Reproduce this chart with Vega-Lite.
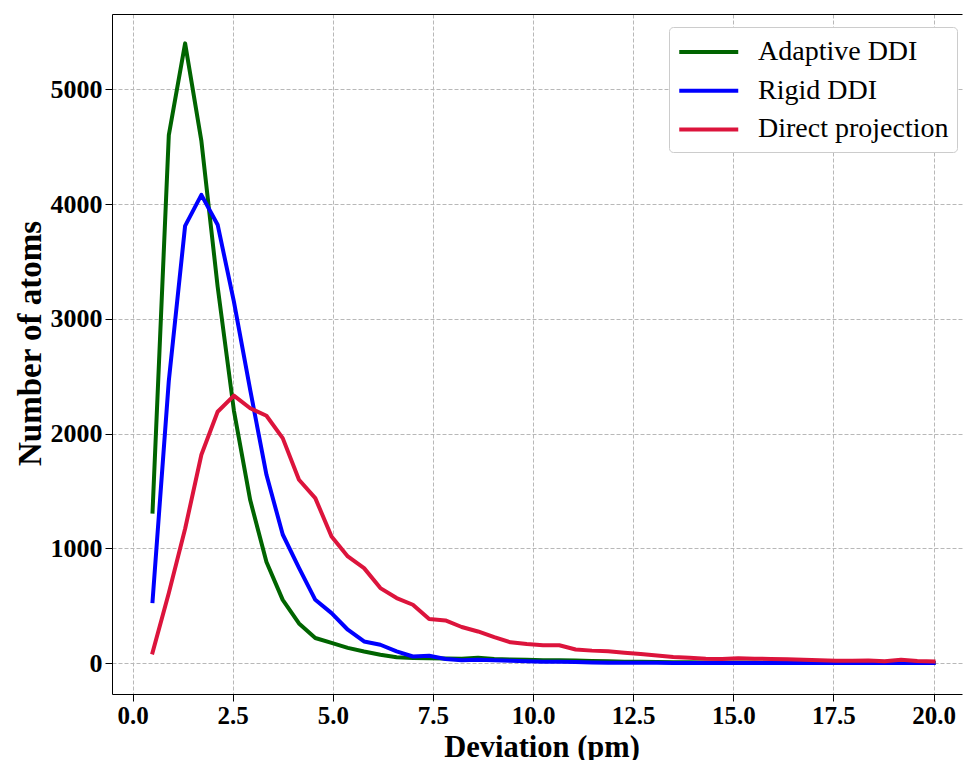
{
  "$schema": "https://vega.github.io/schema/vega-lite/v6.json",
  "width": 850,
  "height": 680,
  "autosize": {"type": "none"},
  "padding": {"left": 112, "top": 14, "right": 1, "bottom": 66},
  "background": "white",
  "config": {"view": {"stroke": null}, "font": "Liberation Serif"},
  "data": {"values": [
    {"x":0.5,"Adaptive DDI":1320,"Rigid DDI":540,"Direct projection":92},
    {"x":0.906,"Adaptive DDI":4600,"Rigid DDI":2460,"Direct projection":610},
    {"x":1.313,"Adaptive DDI":5400,"Rigid DDI":3810,"Direct projection":1170},
    {"x":1.719,"Adaptive DDI":4550,"Rigid DDI":4080,"Direct projection":1815},
    {"x":2.125,"Adaptive DDI":3280,"Rigid DDI":3820,"Direct projection":2190},
    {"x":2.531,"Adaptive DDI":2200,"Rigid DDI":3150,"Direct projection":2330},
    {"x":2.938,"Adaptive DDI":1420,"Rigid DDI":2380,"Direct projection":2220},
    {"x":3.344,"Adaptive DDI":880,"Rigid DDI":1640,"Direct projection":2155},
    {"x":3.75,"Adaptive DDI":550,"Rigid DDI":1120,"Direct projection":1960},
    {"x":4.156,"Adaptive DDI":345,"Rigid DDI":830,"Direct projection":1597},
    {"x":4.563,"Adaptive DDI":218,"Rigid DDI":551,"Direct projection":1437},
    {"x":4.969,"Adaptive DDI":175,"Rigid DDI":435,"Direct projection":1103},
    {"x":5.375,"Adaptive DDI":132,"Rigid DDI":290,"Direct projection":929},
    {"x":5.781,"Adaptive DDI":100,"Rigid DDI":188,"Direct projection":827},
    {"x":6.188,"Adaptive DDI":72,"Rigid DDI":159,"Direct projection":653},
    {"x":6.594,"Adaptive DDI":50,"Rigid DDI":101,"Direct projection":566},
    {"x":7.0,"Adaptive DDI":43,"Rigid DDI":57,"Direct projection":508},
    {"x":7.406,"Adaptive DDI":42,"Rigid DDI":64,"Direct projection":383},
    {"x":7.813,"Adaptive DDI":40,"Rigid DDI":35,"Direct projection":371},
    {"x":8.219,"Adaptive DDI":38,"Rigid DDI":25,"Direct projection":314},
    {"x":8.625,"Adaptive DDI":45,"Rigid DDI":28,"Direct projection":275},
    {"x":9.031,"Adaptive DDI":35,"Rigid DDI":24,"Direct projection":225},
    {"x":9.438,"Adaptive DDI":30,"Rigid DDI":20,"Direct projection":180},
    {"x":9.844,"Adaptive DDI":28,"Rigid DDI":15,"Direct projection":165},
    {"x":10.25,"Adaptive DDI":25,"Rigid DDI":12,"Direct projection":155},
    {"x":10.656,"Adaptive DDI":24,"Rigid DDI":10,"Direct projection":155},
    {"x":11.063,"Adaptive DDI":22,"Rigid DDI":8,"Direct projection":118},
    {"x":11.469,"Adaptive DDI":18,"Rigid DDI":5,"Direct projection":108},
    {"x":11.875,"Adaptive DDI":15,"Rigid DDI":3,"Direct projection":102},
    {"x":12.281,"Adaptive DDI":12,"Rigid DDI":2,"Direct projection":90},
    {"x":12.688,"Adaptive DDI":10,"Rigid DDI":2,"Direct projection":78},
    {"x":13.094,"Adaptive DDI":8,"Rigid DDI":2,"Direct projection":65},
    {"x":13.5,"Adaptive DDI":7,"Rigid DDI":1,"Direct projection":52},
    {"x":13.906,"Adaptive DDI":6,"Rigid DDI":1,"Direct projection":45},
    {"x":14.313,"Adaptive DDI":5,"Rigid DDI":1,"Direct projection":38},
    {"x":14.719,"Adaptive DDI":5,"Rigid DDI":1,"Direct projection":35},
    {"x":15.125,"Adaptive DDI":4,"Rigid DDI":1,"Direct projection":42},
    {"x":15.531,"Adaptive DDI":4,"Rigid DDI":1,"Direct projection":38},
    {"x":15.938,"Adaptive DDI":3,"Rigid DDI":1,"Direct projection":35},
    {"x":16.344,"Adaptive DDI":3,"Rigid DDI":1,"Direct projection":32},
    {"x":16.75,"Adaptive DDI":3,"Rigid DDI":1,"Direct projection":28},
    {"x":17.156,"Adaptive DDI":2,"Rigid DDI":0,"Direct projection":25},
    {"x":17.563,"Adaptive DDI":2,"Rigid DDI":0,"Direct projection":20},
    {"x":17.969,"Adaptive DDI":2,"Rigid DDI":0,"Direct projection":20},
    {"x":18.375,"Adaptive DDI":2,"Rigid DDI":0,"Direct projection":23},
    {"x":18.781,"Adaptive DDI":1,"Rigid DDI":0,"Direct projection":16},
    {"x":19.188,"Adaptive DDI":1,"Rigid DDI":0,"Direct projection":28},
    {"x":19.594,"Adaptive DDI":1,"Rigid DDI":0,"Direct projection":17},
    {"x":20.0,"Adaptive DDI":1,"Rigid DDI":0,"Direct projection":14}
  ]},
  "transform": [
    {"fold": ["Adaptive DDI", "Rigid DDI", "Direct projection"], "as": ["method", "count"]}
  ],
  "layer": [
    {
      "mark": {"type": "line", "strokeWidth": 4, "strokeCap": "square", "strokeJoin": "round", "clip": true},
      "encoding": {
        "x": {
          "field": "x", "type": "quantitative",
          "scale": {"domain": [-0.5125, 20.71], "nice": false, "zero": false},
          "axis": {
            "orient": "bottom",
            "values": [0, 2.5, 5, 7.5, 10, 12.5, 15, 17.5, 20],
            "format": ".1f",
            "grid": true, "gridColor": "#b8b8b8", "gridDash": [4, 2], "gridWidth": 1,
            "domainColor": "#000000", "domainWidth": 1,
            "tickColor": "#000000", "tickSize": 7, "tickWidth": 1,
            "labelFont": "Liberation Serif", "labelFontWeight": "bold", "labelFontSize": 25, "labelColor": "#000000",
            "labelBaseline": "alphabetic", "labelPadding": 22, "labelFlush": false, "labelOverlap": false,
            "title": "Deviation (pm)",
            "titleFont": "Liberation Serif", "titleFontWeight": "bold", "titleFontSize": 30.5, "titleColor": "#000000",
            "titleX": 429.5, "titleY": 62, "titleAlign": "center", "titleBaseline": "alphabetic", "titleAnchor": null
          }
        },
        "y": {
          "field": "count", "type": "quantitative",
          "scale": {"domain": [-270, 5656], "nice": false, "zero": false},
          "axis": {
            "values": [0, 1000, 2000, 3000, 4000, 5000],
            "format": "d",
            "grid": true, "gridColor": "#b8b8b8", "gridDash": [4, 2], "gridWidth": 1,
            "domainColor": "#000000", "domainWidth": 1,
            "tickColor": "#000000", "tickSize": 7, "tickWidth": 1,
            "labelFont": "Liberation Serif", "labelFontWeight": "bold", "labelFontSize": 26, "labelColor": "#000000",
            "labelPadding": 3, "labelOverlap": false,
            "title": "Number of atoms",
            "titleFont": "Liberation Serif", "titleFontWeight": "bold", "titleFontSize": 33, "titleColor": "#000000",
            "titleAngle": -90, "titleX": -82, "titleY": 329, "titleAlign": "center", "titleBaseline": "middle", "titleAnchor": null
          }
        },
        "color": {
          "field": "method", "type": "nominal",
          "scale": {"domain": ["Adaptive DDI", "Rigid DDI", "Direct projection"], "range": ["#006400", "#0000ff", "#dc143c"]},
          "legend": {
            "orient": "none", "legendX": 557, "legendY": 13,
            "title": null,
            "symbolType": "M-1,0H3", "symbolSize": 870, "symbolStrokeWidth": 4, "symbolFillColor": "transparent",
            "labelFont": "Liberation Serif", "labelFontSize": 28, "labelFontWeight": "normal", "labelColor": "#000000",
            "labelOffset": 47, "labelLimit": 400,
            "padding": 8, "rowPadding": 7.7,
            "strokeColor": "#cccccc", "fillColor": "#ffffff", "cornerRadius": 4
          }
        }
      }
    },
    {
      "mark": {"type": "line", "opacity": 0},
      "encoding": {
        "x": {
          "field": "x", "type": "quantitative",
          "axis": {"orient": "top", "labels": false, "ticks": false, "grid": false, "title": null, "domainColor": "#000000", "domainWidth": 1}
        },
        "y": {"field": "count", "type": "quantitative"}
      }
    }
  ],
  "resolve": {"axis": {"x": "independent"}}
}
